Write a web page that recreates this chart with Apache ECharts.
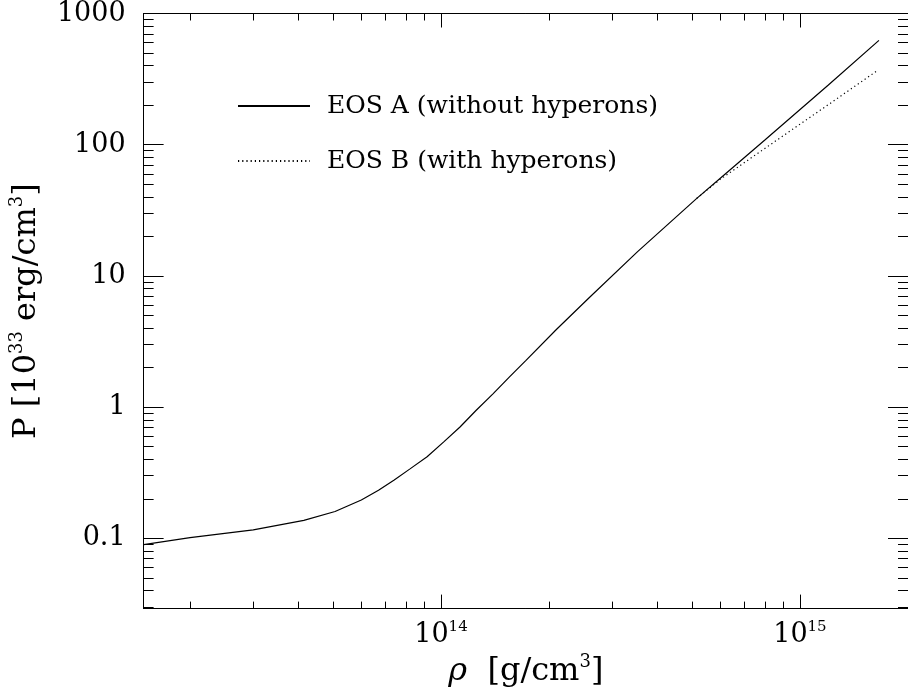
<!DOCTYPE html>
<html>
<head>
<meta charset="utf-8">
<script src="https://cdn.jsdelivr.net/npm/echarts@6/dist/echarts.min.js"></script>
<style>
  html, body { margin: 0; padding: 0; background: #fff; }
  #chart { width: 908px; height: 696px; }
</style>
</head>
<body>
<div id="chart"></div>
<script>
// Density rho [g/cm^3] and pressure P [10^33 erg/cm^3]
const rhoA = [1.485e13, 2.0e13, 3.0e13, 4.15e13, 5.07e13, 6.0e13, 6.7e13, 7.41e13, 8.2e13, 9.15e13,
              1.02e14, 1.13e14, 1.25e14, 1.396e14, 1.55e14, 1.72e14, 2.10e14, 2.6e14, 3.53e14,
              5.16e14, 6.0e14, 8.0e14, 1.2e15, 1.66e15];
const presA = [0.0895, 0.101, 0.116, 0.137, 0.160, 0.196, 0.232, 0.278, 0.338, 0.418,
               0.545, 0.705, 0.937, 1.26, 1.69, 2.25, 3.92, 6.9, 15.3,
               39.0, 55.5, 109, 285, 624];

const rhoB = [5.16e14, 6.0e14, 8.0e14, 1.2e15, 1.65e15];
const presB = [39.0, 54.5, 94, 202, 370];

const seriesNames = ['EOS A (without hyperons)', 'EOS B (with hyperons)'];

// Axis ticks
const xMajorTicks = [1e14, 1e15];
const xMinorTicks = [2e13, 3e13, 4e13, 5e13, 6e13, 7e13, 8e13, 9e13,
                     2e14, 3e14, 4e14, 5e14, 6e14, 7e14, 8e14, 9e14];
const yMajorTicks = [0.1, 1, 10, 100, 1000];
const yMinorTicks = [0.03, 0.04, 0.05, 0.06, 0.07, 0.08, 0.09,
                     0.2, 0.3, 0.4, 0.5, 0.6, 0.7, 0.8, 0.9,
                     2, 3, 4, 5, 6, 7, 8, 9,
                     20, 30, 40, 50, 60, 70, 80, 90,
                     200, 300, 400, 500, 600, 700, 800, 900];
const yTickLabels = ['0.1', '1', '10', '100', '1000'];

const xRange = [1.485e13, 2.0e15];
const yRange = [0.0291, 1000];

const FONT = 'DejaVu Serif';
const INK = '#000';

const supRich = {
  b: { fontFamily: FONT, fontSize: 27, color: INK, lineHeight: 30 },
  s: { fontFamily: FONT, fontSize: 15, color: INK, lineHeight: 21, verticalAlign: 'top' }
};
const nameRich = {
  i: { fontFamily: FONT, fontSize: 32, color: INK, lineHeight: 38, fontStyle: 'italic' },
  s: { fontFamily: FONT, fontSize: 18, color: INK, lineHeight: 24, verticalAlign: 'top' }
};

function xAxisDef(position, ticks, len, extra) {
  return Object.assign({
    type: 'log', logBase: 10, position: position, gridIndex: 0,
    min: xRange[0], max: xRange[1],
    axisLine: { show: true, onZero: false, lineStyle: { color: INK, width: 1 } },
    axisTick: { show: true, inside: true, length: len, customValues: ticks,
                lineStyle: { color: INK, width: 1 } },
    axisLabel: { show: false },
    splitLine: { show: false },
    minorTick: { show: false }
  }, extra || {});
}

function yAxisDef(position, ticks, len, extra) {
  return Object.assign({
    type: 'log', logBase: 10, position: position, gridIndex: 0,
    min: yRange[0], max: yRange[1],
    axisLine: { show: true, onZero: false, lineStyle: { color: INK, width: 1 } },
    axisTick: { show: true, inside: true, length: len, customValues: ticks,
                lineStyle: { color: INK, width: 1 } },
    axisLabel: { show: false },
    splitLine: { show: false },
    minorTick: { show: false }
  }, extra || {});
}

const chart = echarts.init(document.getElementById('chart'), null, { renderer: 'canvas' });

chart.setOption({
  animation: false,
  backgroundColor: '#fff',
  grid: { left: 139.5, top: 12.3, width: 774, height: 598.7, containLabel: false },
  legend: {
    data: seriesNames,
    orient: 'vertical',
    left: 232,
    top: 86,
    itemWidth: 72,
    itemHeight: 14,
    itemGap: 25,
    itemStyle: { opacity: 0 },
    textStyle: { fontFamily: FONT, fontSize: 25, color: INK, lineHeight: 30, padding: [0, 0, 0, 12] }
  },
  xAxis: [
    xAxisDef('bottom', xMajorTicks, 14, {
      name: '{i|ρ}  [g/cm{s|3}]',
      nameLocation: 'middle',
      nameGap: 41,
      nameTextStyle: { fontFamily: FONT, fontSize: 32, color: INK, lineHeight: 38, rich: nameRich },
      axisLabel: {
        show: true, customValues: xMajorTicks, margin: 11,
        formatter: function (v) { return '{b|10}{s|' + Math.round(Math.log10(v)) + '}'; },
        rich: supRich
      }
    }),
    xAxisDef('bottom', xMinorTicks, 7),
    xAxisDef('top', xMajorTicks, 14),
    xAxisDef('top', xMinorTicks, 7)
  ],
  yAxis: [
    yAxisDef('left', yMajorTicks, 20, {
      name: 'P [10{s|33} erg/cm{s|3}]',
      nameLocation: 'middle',
      nameGap: 90,
      nameRotate: 90,
      nameTextStyle: { fontFamily: FONT, fontSize: 32, color: INK, lineHeight: 38, rich: nameRich },
      axisLabel: {
        show: true, customValues: yMajorTicks, margin: 18,
        fontFamily: FONT, fontSize: 27, color: INK,
        formatter: function (v) {
          const i = yMajorTicks.findIndex(t => Math.abs(Math.log10(t) - Math.log10(v)) < 1e-6);
          return i >= 0 ? yTickLabels[i] : '';
        }
      }
    }),
    yAxisDef('left', yMinorTicks, 10),
    yAxisDef('right', yMajorTicks, 20),
    yAxisDef('right', yMinorTicks, 10)
  ],
  series: [
    {
      name: seriesNames[0],
      type: 'line',
      xAxisIndex: 0, yAxisIndex: 0,
      data: rhoA.map((r, i) => [r, presA[i]]),
      showSymbol: false, symbol: 'none',
      smooth: false,
      lineStyle: { color: INK, width: 1.2, type: 'solid' },
      itemStyle: { color: INK },
      z: 3
    },
    {
      name: seriesNames[1],
      type: 'line',
      xAxisIndex: 0, yAxisIndex: 0,
      data: rhoB.map((r, i) => [r, presB[i]]),
      showSymbol: false, symbol: 'none',
      smooth: false,
      lineStyle: { color: INK, width: 1.2, type: [1.2, 3] },
      itemStyle: { color: INK },
      z: 2
    }
  ]
});
</script>
</body>
</html>
